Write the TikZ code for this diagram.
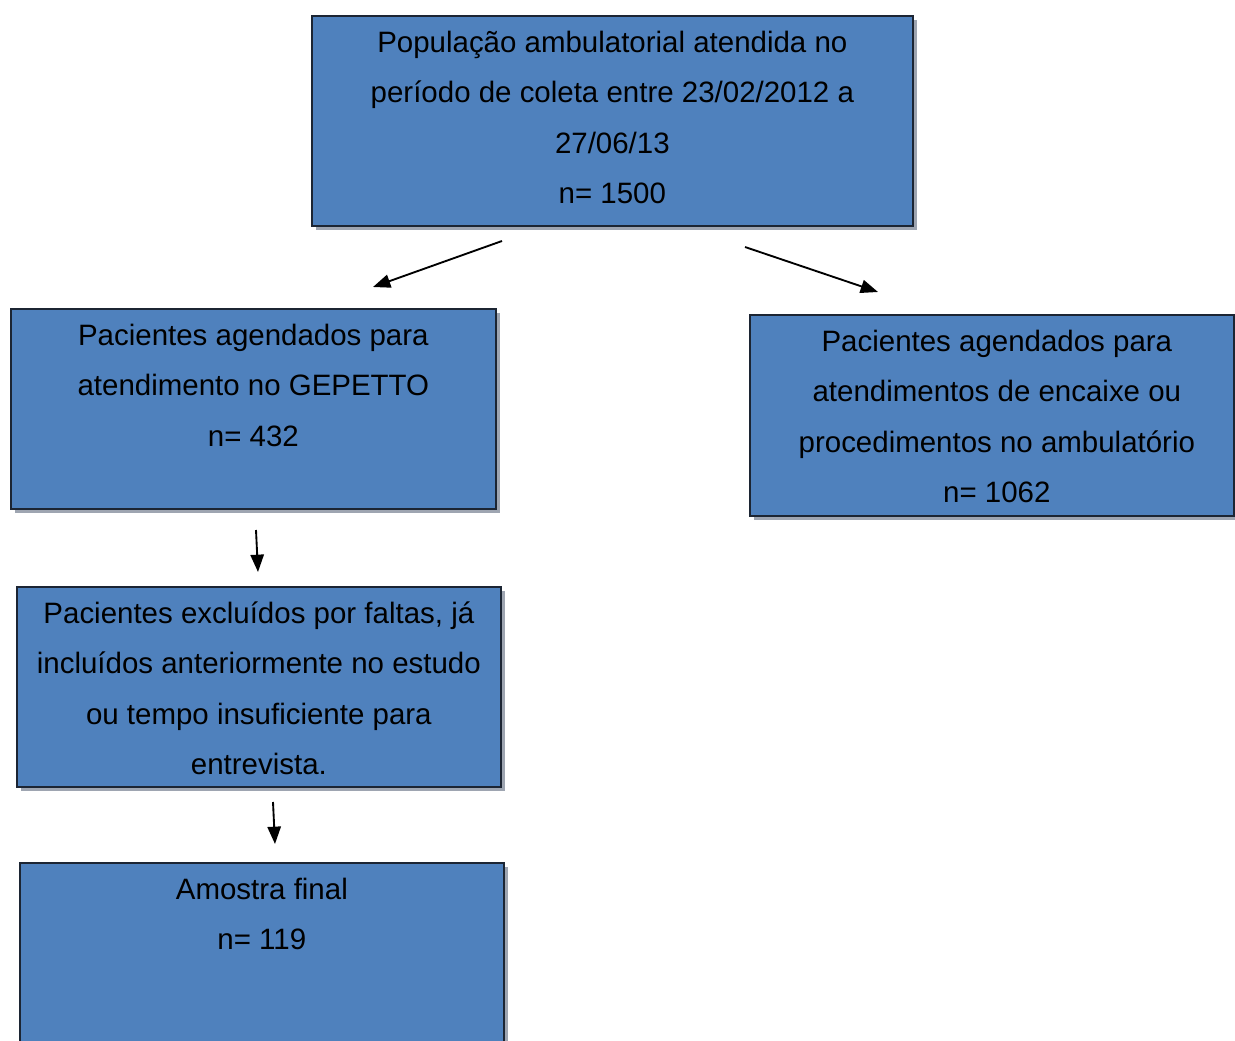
\documentclass[tikz,border=0pt]{standalone}
\usepackage{fontspec}
\setmainfont{Liberation Sans}
\usetikzlibrary{arrows.meta,shadows}
\definecolor{boxblue}{HTML}{4F81BD}
\definecolor{boxedge}{HTML}{1C2533}
\definecolor{shadowgray}{HTML}{9EA5B1}
\begin{document}
\begin{tikzpicture}[x=0.75pt,y=-0.75pt,
  flowbox/.style={rectangle, fill=boxblue, draw=boxedge, line width=1.3pt, inner sep=0pt, anchor=north west,
    drop shadow={shadow xshift=3pt, shadow yshift=-3pt, fill=shadowgray, opacity=1}},
  boxtext/.style={anchor=north, inner sep=0pt, align=center, font=\fontsize{22.1}{37.9}\selectfont},
  flowarrow/.style={line width=1.4pt, -{Triangle[length=13pt,width=10pt]}}]
\useasboundingbox (0,0) rectangle (1235,1041);
% boxes
\node[flowbox, minimum width=450.75pt, minimum height=157.5pt] (b1) at (311,15) {};
\node[flowbox, minimum width=363.75pt, minimum height=150pt] (b2) at (10,308) {};
\node[flowbox, minimum width=363pt, minimum height=150.75pt] (b3) at (749,314) {};
\node[flowbox, minimum width=363pt, minimum height=150pt] (b4) at (16,586) {};
\node[flowbox, minimum width=363pt, minimum height=145pt] (b5) at (19,862) {};
% texts
\node[boxtext] (t1) at ([yshift=-1.2pt]b1.north) {\strut População ambulatorial atendida no\\período de coleta entre 23/02/2012 a\\27/06/13\\n= 1500};
\node[boxtext] (t2) at ([yshift=-1.2pt]b2.north) {\strut Pacientes agendados para\\atendimento no GEPETTO\\n= 432};
\node[boxtext] (t3) at ([xshift=3.75pt,yshift=-1.2pt]b3.north) {\strut Pacientes agendados para\\atendimentos de encaixe ou\\procedimentos no ambulatório\\n= 1062};
\node[boxtext] (t4) at ([yshift=-1.2pt]b4.north) {\strut Pacientes excluídos por faltas, já\\incluídos anteriormente no estudo\\ou tempo insuficiente para\\entrevista.};
\node[boxtext] (t5) at ([yshift=-1.2pt]b5.north) {\strut Amostra final\\n= 119};
% arrow ends
\coordinate (a1s) at (502,241);
\coordinate (a1e) at (373,287);
\coordinate (a2s) at (745,247);
\coordinate (a2e) at (878,292);
\coordinate (a3s) at (256,530);
\coordinate (a3e) at (258,572);
\coordinate (a4s) at (273,802);
\coordinate (a4e) at (275,844);
\draw[flowarrow] (a1s) -- (a1e);
\draw[flowarrow] (a2s) -- (a2e);
\draw[flowarrow] (a3s) -- (a3e);
\draw[flowarrow] (a4s) -- (a4e);
\end{tikzpicture}
\end{document}
